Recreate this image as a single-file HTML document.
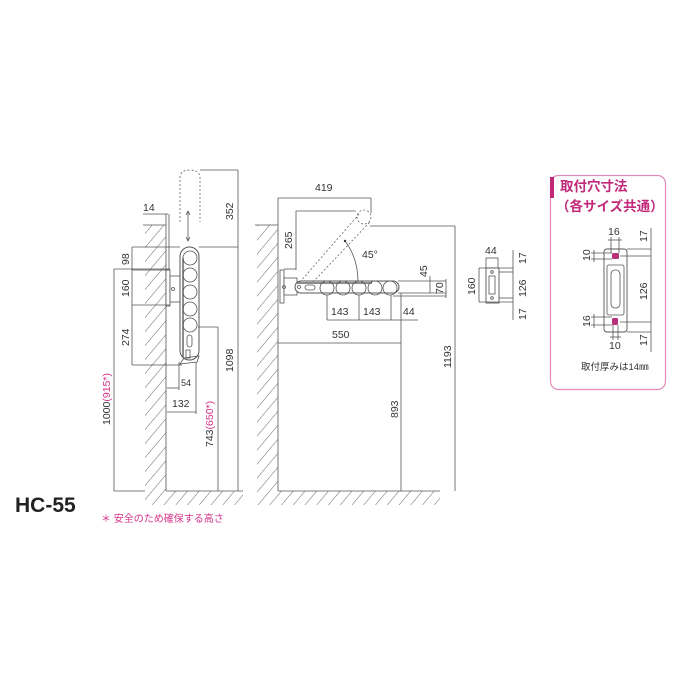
<!DOCTYPE html>
<html><head><meta charset="utf-8"><style>
html,body{margin:0;padding:0;background:#fff;width:700px;height:700px;overflow:hidden}
svg{font-family:"Liberation Sans","Noto Sans CJK JP",sans-serif}
.d{stroke:#555;stroke-width:0.8;fill:none}
.t{font-size:10.5px;fill:#333}
.p{fill:#d6338a}
</style></head><body>
<svg width="700" height="700" viewBox="0 0 700 700">
<defs>
<pattern id="h" width="9" height="9" patternUnits="userSpaceOnUse" patternTransform="rotate(40)">
<line x1="0" y1="0" x2="0" y2="9" stroke="#555" stroke-width="0.9"/>
</pattern>
</defs>
<!-- left wall -->
<rect x="145" y="225" width="21" height="266" fill="url(#h)"/>
<line x1="166" y1="225" x2="166" y2="491" class="d"/>
<line x1="143" y1="225" x2="166" y2="225" class="d"/>
<rect x="145" y="491" width="98" height="14" fill="url(#h)"/>
<line x1="166" y1="491" x2="243" y2="491" class="d"/>
<!-- hanger -->
<rect x="166" y="270" width="4" height="36" fill="#fff" stroke="#555" stroke-width="0.8"/>
<rect x="170" y="276" width="11" height="26" fill="#fff" stroke="#555" stroke-width="0.8"/>
<circle cx="173" cy="289" r="1.5" class="d"/>
<rect x="180" y="247" width="19" height="113" rx="9.5" fill="#fff" stroke="#555" stroke-width="1"/>
<line x1="183" y1="258" x2="183" y2="358" stroke="#666" stroke-width="1.5"/>
<g class="d"><circle cx="190" cy="258" r="7"/><circle cx="190" cy="275" r="7"/><circle cx="190" cy="292" r="7"/><circle cx="190" cy="309" r="7"/><circle cx="190" cy="325" r="7"/></g>
<rect x="187" y="335" width="5" height="12" rx="2.5" class="d"/>
<path d="M180 364 L184 358 L199 356 L197 362 Z" class="d"/>
<rect x="186" y="350" width="4" height="8" class="d"/>
<!-- dotted ghost -->
<path d="M180 222 L180 178 Q180 170 190 170 Q200 170 200 178 L200 222" fill="none" stroke="#666" stroke-width="0.8" stroke-dasharray="2,2"/>
<line x1="188" y1="212" x2="188" y2="240" class="d"/>
<path d="M186 215 L188 211 L190 215 M186 237 L188 241 L190 237" class="d"/>
<!-- left dims -->
<g class="d">
<line x1="143" y1="214" x2="168" y2="214"/><line x1="166" y1="214" x2="166" y2="225"/><line x1="169" y1="214" x2="169" y2="270"/>
<line x1="200" y1="170" x2="238" y2="170"/><line x1="238" y1="170" x2="238" y2="491"/><line x1="199" y1="247" x2="238" y2="247"/>
<line x1="132" y1="247" x2="180" y2="247"/><line x1="132" y1="247" x2="132" y2="365"/>
<line x1="132" y1="270" x2="170" y2="270"/><line x1="132" y1="305" x2="170" y2="305"/><line x1="132" y1="365" x2="182" y2="365"/>
<line x1="114" y1="269" x2="170" y2="269"/><line x1="114" y1="269" x2="114" y2="491"/><line x1="114" y1="491" x2="145" y2="491"/>
<line x1="198" y1="327" x2="218" y2="327"/><line x1="218" y1="327" x2="218" y2="491"/>
<line x1="179" y1="362" x2="179" y2="390"/><line x1="167" y1="388" x2="179" y2="388"/>
<line x1="196" y1="362" x2="196" y2="414"/><line x1="167" y1="412" x2="196" y2="412"/>
</g>
<g class="t">
<text x="143" y="211">14</text>
<text x="233" y="220" transform="rotate(-90 233 220)" text-anchor="start">352</text>
<text x="129" y="265" transform="rotate(-90 129 265)">98</text>
<text x="129" y="297" transform="rotate(-90 129 297)">160</text>
<text x="129" y="346" transform="rotate(-90 129 346)">274</text>
<text x="233" y="372" transform="rotate(-90 233 372)">1098</text>
<text x="181" y="386" style="font-size:9px">54</text>
<text x="172" y="407">132</text>
<text x="110" y="425" transform="rotate(-90 110 425)">1000<tspan class="p">(915*)</tspan></text>
<text x="213" y="447" transform="rotate(-90 213 447)">743<tspan class="p">(650*)</tspan></text>
</g>
<text x="15" y="512" style="font-size:21px;font-weight:bold;fill:#222">HC-55</text>
<text x="101" y="522" class="p" style="font-size:10px">＊ 安全のため確保する高さ</text>

<!-- middle wall -->
<rect x="257" y="225" width="21" height="266" fill="url(#h)"/>
<line x1="278" y1="225" x2="278" y2="491" class="d"/>
<line x1="255" y1="225" x2="278" y2="225" class="d"/>
<rect x="257" y="491" width="183" height="14" fill="url(#h)"/>
<line x1="278" y1="491" x2="440" y2="491" class="d"/>
<!-- arm -->
<rect x="280" y="270" width="4" height="33" fill="#fff" stroke="#555" stroke-width="0.8"/>
<rect x="284" y="278" width="13" height="17" fill="#fff" stroke="#555" stroke-width="0.8"/>
<circle cx="284" cy="287" r="1.5" class="d"/>
<rect x="295" y="281" width="104" height="12" rx="6" fill="#fff" stroke="#555" stroke-width="1"/>
<line x1="297" y1="283" x2="372" y2="283" stroke="#666" stroke-width="1.5"/>
<g class="d"><circle cx="327" cy="288" r="7"/><circle cx="343" cy="288" r="7"/><circle cx="359" cy="288" r="7"/><circle cx="375" cy="288" r="7"/><circle cx="390" cy="288" r="7"/></g>
<rect x="305" y="285" width="10" height="5" rx="2.5" class="d"/>
<circle cx="299" cy="287" r="1.5" class="d"/>
<!-- dashed ghost arm -->
<g fill="none" stroke="#666" stroke-width="0.8" stroke-dasharray="2,2">
<line x1="300" y1="282" x2="360" y2="213"/><line x1="313" y1="282" x2="370" y2="222"/>
<ellipse cx="364" cy="217" rx="7" ry="7"/>
</g>
<path d="M345 241 Q358 258 358 282" class="d"/>
<circle cx="345" cy="241" r="1.2" fill="#333"/>
<text x="362" y="258" class="t">45°</text>
<g class="d">
<line x1="278" y1="198" x2="371" y2="198"/><line x1="278" y1="198" x2="278" y2="225"/><line x1="371" y1="198" x2="371" y2="213"/>
<line x1="296" y1="211" x2="356" y2="211"/><line x1="296" y1="211" x2="296" y2="270"/><line x1="284" y1="269" x2="296" y2="269"/>
<line x1="370" y1="226" x2="455" y2="226"/><line x1="455" y1="226" x2="455" y2="491"/>
<line x1="398" y1="281" x2="446" y2="281"/><line x1="398" y1="293" x2="446" y2="293"/><line x1="393" y1="296" x2="446" y2="296"/>
<line x1="430" y1="276" x2="430" y2="293"/><line x1="446" y1="279" x2="446" y2="298"/>
<line x1="327" y1="295" x2="327" y2="320"/><line x1="359" y1="295" x2="359" y2="320"/><line x1="391" y1="295" x2="391" y2="320"/><line x1="401" y1="293" x2="401" y2="491"/>
<line x1="327" y1="320" x2="418" y2="320"/>
<line x1="278" y1="343" x2="401" y2="343"/>
</g>
<g class="t">
<text x="315" y="191">419</text>
<text x="292" y="249" transform="rotate(-90 292 249)">265</text>
<text x="331" y="315">143</text>
<text x="363" y="315">143</text>
<text x="403" y="315">44</text>
<text x="332" y="338">550</text>
<text x="427" y="277" transform="rotate(-90 427 277)">45</text>
<text x="443" y="294" transform="rotate(-90 443 294)">70</text>
<text x="398" y="418" transform="rotate(-90 398 418)">893</text>
<text x="451" y="368" transform="rotate(-90 451 368)">1193</text>
</g>
<!-- small plate -->
<rect x="486" y="268" width="13" height="35" fill="#fff" stroke="#555" stroke-width="0.9"/>
<rect x="489" y="276" width="6" height="18" class="d"/>
<circle cx="492" cy="272" r="1.3" class="d"/><circle cx="492" cy="298" r="1.3" class="d"/>
<g class="d">
<line x1="486" y1="258" x2="498" y2="258"/><line x1="486" y1="258" x2="486" y2="268"/><line x1="498" y1="258" x2="498" y2="268"/>
<line x1="479" y1="268" x2="513" y2="268"/><line x1="479" y1="302" x2="513" y2="302"/><line x1="479" y1="268" x2="479" y2="302"/>
<line x1="499" y1="272" x2="513" y2="272"/><line x1="499" y1="298" x2="513" y2="298"/>
<line x1="513" y1="250" x2="513" y2="320"/>
</g>
<g class="t">
<text x="485" y="254">44</text>
<text x="475" y="295" transform="rotate(-90 475 295)">160</text>
<text x="526" y="264" transform="rotate(-90 526 264)">17</text>
<text x="526" y="297" transform="rotate(-90 526 297)">126</text>
<text x="526" y="320" transform="rotate(-90 526 320)">17</text>
</g>
<!-- box -->
<rect x="550.5" y="175.5" width="115" height="214" rx="8" fill="#fff" stroke="#e08ab9" stroke-width="1.2"/>
<rect x="550" y="177" width="4" height="21" fill="#c2287a"/>
<text x="560" y="191" style="font-size:13.5px;font-weight:bold" fill="#c2287a">取付穴寸法</text>
<text x="556" y="211" style="font-size:13.5px;font-weight:bold" fill="#c2287a">（各サイズ共通）</text>
<rect x="604" y="249" width="23" height="83" rx="3" fill="#fff" stroke="#555" stroke-width="0.9"/>
<rect x="607" y="265" width="17" height="50" rx="2" class="d"/>
<rect x="611" y="270" width="9" height="38" rx="4" class="d"/>
<rect x="612" y="253" width="7" height="6" rx="1.5" fill="#b8307c"/>
<rect x="612" y="318" width="6" height="7" rx="1.5" fill="#b8307c"/>
<g class="d">
<line x1="611" y1="237" x2="611" y2="253"/><line x1="619" y1="237" x2="619" y2="253"/><line x1="608" y1="240" x2="622" y2="240"/>
<line x1="591" y1="253" x2="612" y2="253"/><line x1="591" y1="259" x2="612" y2="259"/><line x1="594" y1="250" x2="594" y2="262"/>
<line x1="591" y1="317" x2="612" y2="317"/><line x1="591" y1="325" x2="612" y2="325"/><line x1="594" y1="314" x2="594" y2="328"/>
<line x1="613" y1="325" x2="613" y2="340"/><line x1="618" y1="325" x2="618" y2="340"/><line x1="610" y1="337" x2="621" y2="337"/>
<line x1="627" y1="249" x2="651" y2="249"/><line x1="620" y1="256" x2="651" y2="256"/><line x1="620" y1="322" x2="651" y2="322"/><line x1="627" y1="332" x2="651" y2="332"/>
<line x1="651" y1="228" x2="651" y2="352"/>
</g>
<g class="t">
<text x="608" y="235">16</text>
<text x="590" y="261" transform="rotate(-90 590 261)">10</text>
<text x="590" y="327" transform="rotate(-90 590 327)">16</text>
<text x="609" y="349">10</text>
<text x="647" y="242" transform="rotate(-90 647 242)">17</text>
<text x="647" y="300" transform="rotate(-90 647 300)">126</text>
<text x="647" y="346" transform="rotate(-90 647 346)">17</text>
<text x="581" y="370" style="font-size:9.5px">取付厚みは14㎜</text>
</g>
</svg>
</body></html>
